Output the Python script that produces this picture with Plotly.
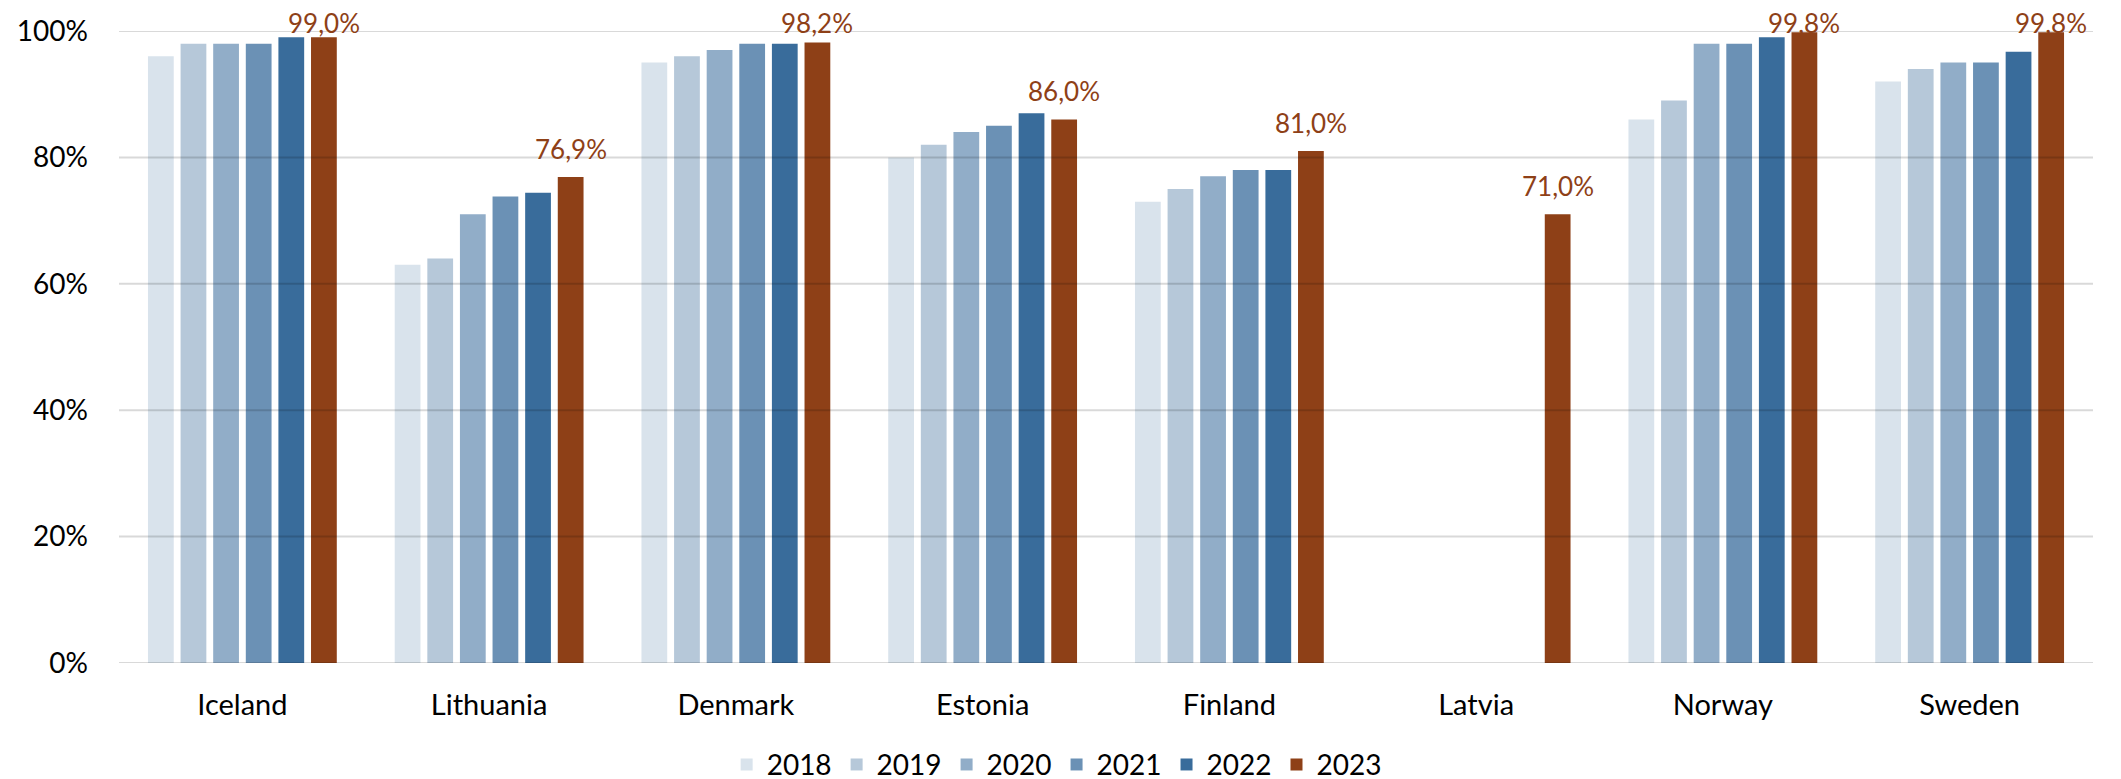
import plotly.graph_objects as go

countries = ["Iceland", "Lithuania", "Denmark", "Estonia", "Finland", "Latvia", "Norway", "Sweden"]
years = ["2018", "2019", "2020", "2021", "2022", "2023"]
v2018 = [96, 63, 95, 80, 73, None, 86, 92]
v2019 = [98, 64, 96, 82, 75, None, 89, 94]
v2020 = [98, 71, 97, 84, 77, None, 98, 95]
v2021 = [98, 73.8, 98, 85, 78, None, 98, 95]
v2022 = [99, 74.4, 98, 87, 78, None, 99, 96.7]
v2023 = [99.0, 76.9, 98.2, 86.0, 81.0, 71.0, 99.8, 99.8]
series = [v2018, v2019, v2020, v2021, v2022, v2023]
colors = ["#D9E3EC", "#B6C8D9", "#91ADC8", "#6B91B5", "#396C9B", "#8E4017"]
label_color = "#8E4017"
yticks = [0, 20, 40, 60, 80, 100]
yticklabels = ["0%", "20%", "40%", "60%", "80%", "100%"]

FONT = "Lato"
W, H = 2121, 779
mt, mb, ml, mr = 23, 124, 111, 36
plot_h = H - mt - mb
px_per_unit = plot_h / 100.0
bargap = 0.207

fig = go.Figure()
for yr, vals, col in zip(years, series, colors):
    fig.add_trace(go.Bar(
        name=yr, x=countries, y=vals, marker=dict(color=col, line=dict(width=0)),
    ))

# data labels for 2023 above the bars (kept inside the chart top like the original)
ngroup = len(years)
slot = (1 - bargap) / ngroup
offset = -(1 - bargap) / 2 + slot * (ngroup - 0.5)
for i, v in enumerate(v2023):
    shift = min(11, (100 - v) * px_per_unit - 9)
    fig.add_annotation(
        x=i + offset, y=v, xref="x", yref="y", text=f"{v:.1f}%".replace(".", ","),
        showarrow=False, yanchor="bottom", yshift=shift, borderpad=0,
        font=dict(family=FONT, size=26, color=label_color),
    )

# gridlines drawn above bars (semi-transparent)
for t in yticks:
    fig.add_shape(type="line", xref="paper", yref="y", x0=0, x1=1, y0=t, y1=t,
                  line=dict(color="rgba(0,0,0,0.15)", width=2), layer="above")

fig.update_layout(
    width=W, height=H,
    margin=dict(t=mt, b=mb, l=ml, r=mr, autoexpand=False),
    plot_bgcolor="white", paper_bgcolor="white",
    barmode="group", bargap=bargap, bargroupgap=0.21,
    font=dict(family=FONT, size=28, color="black"),
    legend=dict(orientation="h", x=0.475, xanchor="center", y=-0.161, yanchor="middle",
                font=dict(family=FONT, size=28), itemwidth=30, traceorder="normal"),
    showlegend=True,
)
fig.update_xaxes(showgrid=False, showline=False, ticks="", tickfont=dict(family=FONT, size=29),
                 ticklabelstandoff=22)
fig.update_yaxes(range=[0, 100], tickvals=yticks, ticktext=yticklabels, showgrid=False,
                 zeroline=False, showline=False, ticks="", tickfont=dict(family=FONT, size=28),
                 ticklabelstandoff=30)

fig.write_html("out.html")
